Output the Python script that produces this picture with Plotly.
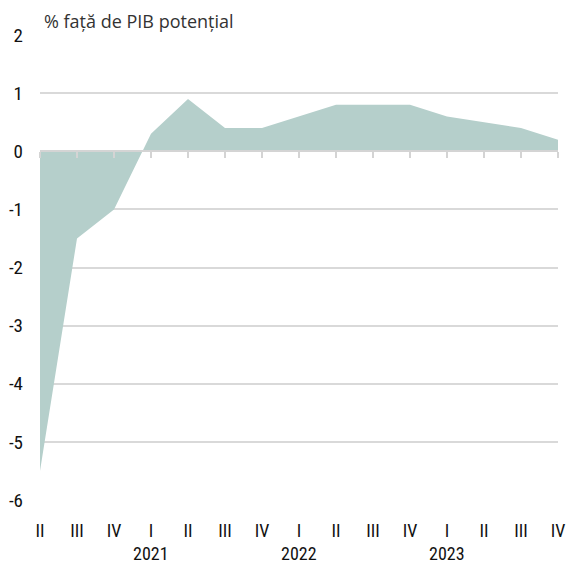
import plotly.graph_objects as go

quarters = ["II", "III", "IV", "I", "II", "III", "IV", "I", "II", "III", "IV", "I", "II", "III", "IV"]
values = [-5.5, -1.5, -1.0, 0.3, 0.9, 0.4, 0.4, 0.6, 0.8, 0.8, 0.8, 0.6, 0.5, 0.4, 0.2]
years = ["2021", "2022", "2023"]
year_start_idx = [3, 7, 11]
y_ticks = [2, 1, 0, -1, -2, -3, -4, -5, -6]
y_ticktext = ["2", "1", "0", "-1", "-2", "-3", "-4", "-5", "-6"]
y_title = "% față de PIB potențial"

x = list(range(len(quarters)))
cond_font = "Roboto Condensed, Noto Sans Condensed, Liberation Sans Narrow, Noto Sans, sans-serif"

fig = go.Figure()
fig.add_trace(go.Scatter(
    x=x, y=values, mode="lines", fill="tozeroy",
    fillcolor="#b5cfcb", line=dict(width=0, color="#b5cfcb"),
    hoverinfo="skip", showlegend=False,
))
# invisible trace to activate the zero-line axis with ticks
fig.add_trace(go.Scatter(
    x=x, y=[0] * len(x), xaxis="x2", mode="lines",
    line=dict(width=0), opacity=0, hoverinfo="skip", showlegend=False,
))

for yr, idx in zip(years, year_start_idx):
    fig.add_annotation(
        x=idx, xref="x", y=-0.115, yref="paper", text=yr, showarrow=False,
        xanchor="center", yanchor="middle",
        font=dict(family=cond_font, size=18, color="#111111"),
    )

fig.add_annotation(
    x=0.003, xref="paper", y=1.0, yref="paper", text=y_title, showarrow=False,
    xanchor="left", yanchor="bottom",
    font=dict(family="Open Sans, Noto Sans, sans-serif", size=18, color="#333333"),
)

fig.update_layout(
    width=569, height=565,
    margin=dict(l=40, r=11, t=35, b=65),
    paper_bgcolor="white", plot_bgcolor="white",
    xaxis=dict(
        range=[0, 14], tickvals=x, ticktext=quarters, showgrid=False,
        zeroline=False, showline=False, ticks="", automargin=False,
        ticklabelstandoff=18,
        tickfont=dict(family=cond_font, size=18, color="#111111"),
        fixedrange=True,
    ),
    xaxis2=dict(
        range=[0, 14], overlaying="x", anchor="free", position=0.75, side="bottom",
        tickvals=x, showticklabels=False, ticks="outside", ticklen=6, tickwidth=1.5,
        tickcolor="#d4d4d4", showline=True, linecolor="#d4d4d4", linewidth=2,
        showgrid=False, zeroline=False, automargin=False,
    ),
    yaxis=dict(
        range=[-6, 2], tickvals=y_ticks, ticktext=y_ticktext,
        showgrid=True, gridcolor="#d9d9d9", gridwidth=1.5,
        zeroline=False, showline=False, ticks="", automargin=False,
        ticklabelstandoff=16,
        tickfont=dict(family=cond_font, size=19, color="#111111"),
        fixedrange=True,
    ),
)

post = (
    "var s=document.createElement('style');"
    "s.textContent='body{margin:0}"
    ".xtick text,.ytick text,.annotation[data-index=\"0\"] text,"
    ".annotation[data-index=\"1\"] text,.annotation[data-index=\"2\"] text"
    "{font-stretch:condensed}';"
    "document.head.appendChild(s);"
)

fig.write_html("out.html", post_script=post, config={"displayModeBar": False})
